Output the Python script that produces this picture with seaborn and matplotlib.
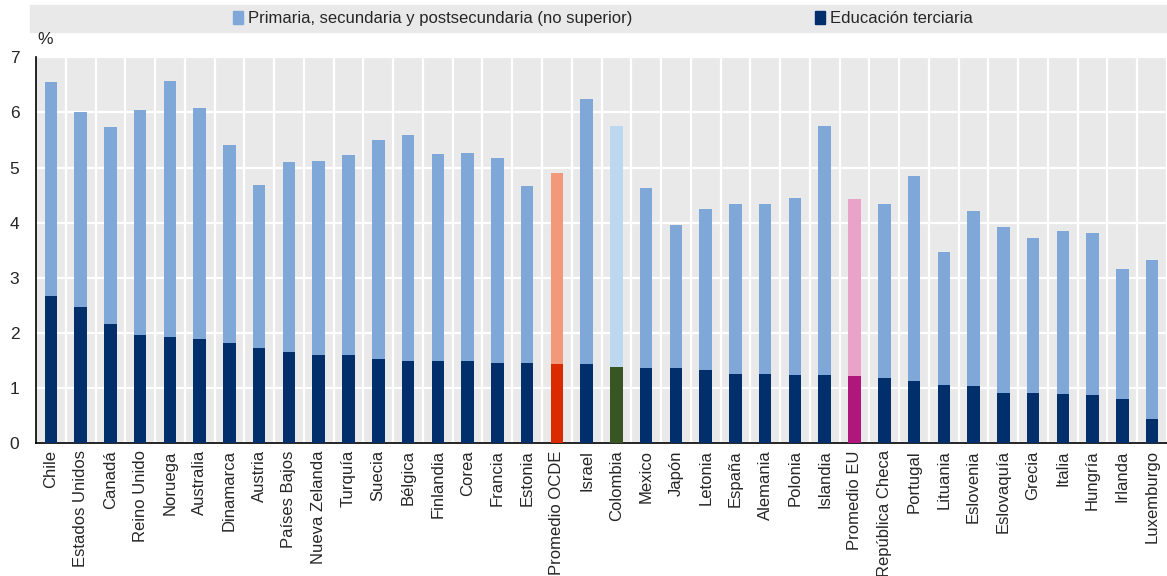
import numpy as np
import pandas as pd
import matplotlib
matplotlib.use("Agg")
import matplotlib.pyplot as plt
import matplotlib.patches as mpatches
import seaborn as sns

countries = ["Chile", "Estados Unidos", "Canadá", "Reino Unido", "Noruega", "Australia",
             "Dinamarca", "Austria", "Países Bajos", "Nueva Zelanda", "Turquía", "Suecia",
             "Bélgica", "Finlandia", "Corea", "Francia", "Estonia", "Promedio OCDE", "Israel",
             "Colombia", "Mexico", "Japón", "Letonia", "España", "Alemania", "Polonia",
             "Islandia", "Promedio EU", "República Checa", "Portugal", "Lituania", "Eslovenia",
             "Eslovaquía", "Grecia", "Italia", "Hungría", "Irlanda", "Luxemburgo"]

# total spending (primary..post-secondary + tertiary), % of GDP
total = [6.55, 6.01, 5.73, 6.04, 6.57, 6.08, 5.40, 4.68, 5.10, 5.12, 5.23, 5.50,
         5.59, 5.24, 5.26, 5.17, 4.67, 4.90, 6.24, 5.75, 4.62, 3.96, 4.25, 4.33,
         4.33, 4.45, 5.75, 4.43, 4.34, 4.84, 3.46, 4.21, 3.92, 3.72, 3.85, 3.81,
         3.16, 3.33]
tertiary = [2.67, 2.48, 2.16, 1.96, 1.93, 1.90, 1.82, 1.73, 1.65, 1.60, 1.60, 1.53,
            1.50, 1.49, 1.49, 1.46, 1.46, 1.43, 1.43, 1.38, 1.36, 1.36, 1.33, 1.26,
            1.26, 1.24, 1.24, 1.22, 1.18, 1.13, 1.06, 1.03, 0.92, 0.92, 0.89, 0.88,
            0.81, 0.44]

light = "#7FA8D9"
dark = "#002F6C"
light_colors = [light] * len(countries)
dark_colors = [dark] * len(countries)
special = {"Promedio OCDE": ("#F4987A", "#DC2A00"),
           "Colombia": ("#BDD7EE", "#375623"),
           "Promedio EU": ("#E9A3C9", "#B0177C")}
for name, (lc, dc) in special.items():
    i = countries.index(name)
    light_colors[i] = lc
    dark_colors[i] = dc

df = pd.DataFrame({"pais": countries, "total": total, "terciaria": tertiary})

sns.set_style("white")
plt.rcParams["font.family"] = ["Liberation Sans", "DejaVu Sans"]

fig = plt.figure(figsize=(11.67, 5.76), dpi=100)
ax = fig.add_axes([36 / 1167, 1 - 443.3 / 576, 1 - 36 / 1167, (443.3 - 57.2) / 576])
ax.set_facecolor("#E9E9E9")

sns.barplot(data=df, x="pais", y="total", hue="pais", palette=light_colors,
            width=0.42, legend=False, ax=ax, saturation=1, zorder=3, linewidth=0)
sns.barplot(data=df, x="pais", y="terciaria", hue="pais", palette=dark_colors,
            width=0.42, legend=False, ax=ax, saturation=1, zorder=3, linewidth=0)

ax.set_ylim(0, 7)
ax.set_xlim(-0.5, 37.2)
ax.set_yticks(range(0, 8))
ax.set_xticks(np.arange(len(countries)) + 0.5, minor=True)
ax.set_xticks(range(len(countries)))
ax.set_xticklabels(countries, rotation=90, fontsize=12)
ax.tick_params(axis="x", which="major", length=0, pad=5)
ax.tick_params(axis="x", which="minor", direction="in", length=4, width=1.2, color="black")
ax.tick_params(axis="y", direction="in", length=5, width=1.2, labelsize=12.5, pad=12)
ax.grid(True, axis="y", color="white", linewidth=1.6, zorder=0)
ax.grid(True, axis="x", which="minor", color="white", linewidth=1.6, zorder=0)
ax.set_axisbelow(True)
ax.set_xlabel("")
ax.set_ylabel("")
for s in ["top", "right"]:
    ax.spines[s].set_visible(False)
for s in ["left", "bottom"]:
    ax.spines[s].set_color("black")
    ax.spines[s].set_linewidth(1.2)

fig.text(37 / 1167, 1 - 40 / 576, "%", fontsize=12.5, va="center", ha="left")

# legend band
fig.patches.append(mpatches.Rectangle((30 / 1167, 1 - 32 / 576), 1, 27 / 576,
                                      transform=fig.transFigure, color="#E9E9E9", zorder=0))
handles = [mpatches.Patch(color=light, label="Primaria, secundaria y postsecundaria (no superior)"),
           mpatches.Patch(color=dark, label="Educación terciaria")]
fig.legend(handles=handles, loc="center", bbox_to_anchor=(603 / 1167, 1 - 18.5 / 576),
           ncol=2, frameon=False, handlelength=0.6, handleheight=0.8,
           handletextpad=0.3, columnspacing=11.0,
           prop={"family": ["Liberation Sans Narrow", "Liberation Sans"], "size": 12})

fig.savefig("out.png", dpi=100)
